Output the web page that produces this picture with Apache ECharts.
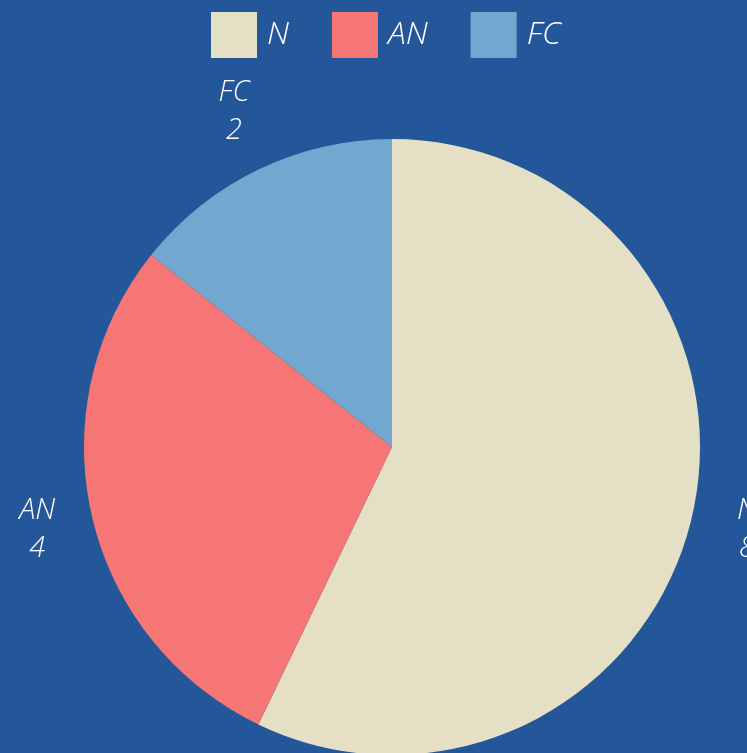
<!DOCTYPE html>
<html>
<head>
<meta charset="utf-8">
<style>
  html, body { margin: 0; padding: 0; background: #245799; }
  #chart { width: 747px; height: 753px; }
</style>
<script src="https://cdn.jsdelivr.net/npm/echarts@6/dist/echarts.min.js"></script>
</head>
<body>
<div id="chart"></div>
<script>
// Category names and counts for each slice
const categories = ['N', 'AN', 'FC'];
const counts = [8, 4, 2];
const sliceColors = ['#E5DFC6', '#F67676', '#72A8D0'];

const labelFont = '"Open Sans", "DejaVu Sans", sans-serif';

const chart = echarts.init(document.getElementById('chart'));

chart.setOption({
  backgroundColor: '#245799',
  animation: false,
  color: sliceColors,
  legend: {
    data: categories,
    top: 12,
    left: 211,
    padding: 0,
    itemWidth: 46,
    itemHeight: 46,
    itemGap: 43,
    icon: 'rect',
    textStyle: {
      color: '#ffffff',
      fontSize: 32,
      fontStyle: 'italic',
      fontWeight: 300,
      fontFamily: labelFont,
      padding: [0, 0, 4, 5]
    }
  },
  series: [{
    type: 'pie',
    center: [392, 447],
    radius: 308,
    startAngle: 90,
    clockwise: true,
    data: categories.map((name, i) => ({ name: name, value: counts[i] })),
    label: {
      show: true,
      position: 'outside',
      formatter: '{b}\n{c}',
      color: '#ffffff',
      fontSize: 29,
      lineHeight: 38,
      fontStyle: 'italic',
      fontWeight: 300,
      fontFamily: labelFont,
      overflow: 'none',
      distanceToLabelLine: 0
    },
    labelLine: {
      show: true,
      length: 64,
      length2: 0,
      lineStyle: { opacity: 0, width: 0 }
    },
    // Centre each two-line label on the end of its (invisible) guide line,
    // pulled slightly back towards the pie horizontally.
    labelLayout: function (params) {
      const pts = params.labelLinePoints;
      if (!pts) return {};
      const start = pts[0];
      const end = pts[pts.length - 1];
      const vx = end[0] - start[0];
      const vy = end[1] - start[1];
      const len = Math.sqrt(vx * vx + vy * vy) || 1;
      return {
        x: end[0] - (vx / len) * 8,
        y: end[1],
        align: 'center',
        verticalAlign: 'middle',
        hideOverlap: false
      };
    },
    itemStyle: { borderWidth: 0 },
    emphasis: { disabled: true }
  }]
});
</script>
</body>
</html>
